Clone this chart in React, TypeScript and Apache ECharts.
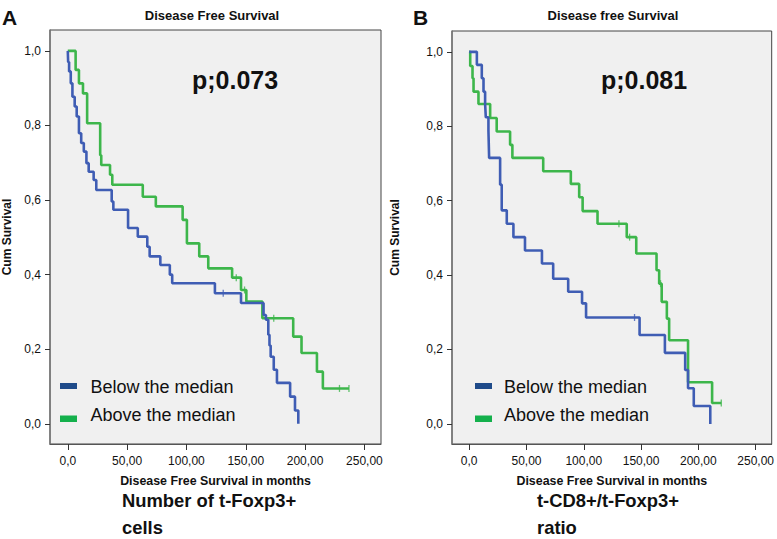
import React, { useEffect, useRef } from "react";
import * as echarts from "echarts";

// ---- data ----
const xTicks = [0, 50, 100, 150, 200, 250];
const yTicks = [0, 0.2, 0.4, 0.6, 0.8, 1.0];
const legendLabels = ["Below the median", "Above the median"];
const panelLetters = ["A", "B"];
const panelTitles = ["Disease Free Survival", "Disease free Survival"];
const xAxisTitle = "Disease Free Survival in months";
const yAxisTitle = "Cum Survival";
const pValues = ["p;0.073", "p;0.081"];
const subtitlesA = ["Number of t-Foxp3+", "cells"];
const subtitlesB = ["t-CD8+/t-Foxp3+", "ratio"];

// Panel A – below the median
const aBelowTime = [0, 0.3, 1.1, 2.5, 3.9, 5.8, 7.5, 9.4, 11.3, 13.5, 15.7, 17.6, 21.8, 24, 37, 38.4, 50.8, 59, 67, 69, 78, 86, 88, 124, 146, 165, 167, 169, 170, 171, 173.6, 176.3, 187.4, 191.5, 194.3];
const aBelowSurv = [1.0, 0.97, 0.945, 0.913, 0.877, 0.851, 0.824, 0.779, 0.753, 0.73, 0.699, 0.676, 0.654, 0.627, 0.596, 0.574, 0.525, 0.502, 0.475, 0.449, 0.426, 0.4, 0.377, 0.35, 0.324, 0.292, 0.279, 0.239, 0.21, 0.18, 0.145, 0.11, 0.073, 0.036, 0];
const aBelowCensorTime = [131];
const aBelowCensorSurv = [0.35];

// Panel A – above the median
const aAboveTime = [0, 6.6, 9.4, 12.8, 16.3, 27.3, 28.2, 35.6, 37.5, 63.2, 74.2, 96.8, 100.4, 110.8, 118.4, 138.5, 146, 150.5, 164, 190, 197, 210, 215, 237];
const aAboveSurv = [1.0, 0.949, 0.913, 0.886, 0.806, 0.72, 0.694, 0.668, 0.641, 0.609, 0.583, 0.547, 0.484, 0.449, 0.417, 0.392, 0.359, 0.328, 0.283, 0.234, 0.19, 0.14, 0.095, 0.095];
const aAboveCensorTime = [142, 149, 173.6, 229, 237];
const aAboveCensorSurv = [0.392, 0.359, 0.283, 0.095, 0.095];

// Panel B – below the median
const bBelowTime = [0, 6.7, 11, 12.5, 13.9, 14.5, 16.8, 17.4, 27, 28.4, 32.8, 38.6, 48.7, 63.5, 73.3, 86.4, 98.5, 102, 148.7, 170.8, 188.5, 191, 196, 210.4];
const bBelowSurv = [1.0, 0.965, 0.929, 0.893, 0.86, 0.824, 0.788, 0.715, 0.643, 0.574, 0.538, 0.502, 0.466, 0.431, 0.39, 0.355, 0.324, 0.286, 0.239, 0.191, 0.145, 0.096, 0.048, 0];
const bBelowCensorTime = [144.3];
const bBelowCensorSurv = [0.286];

// Panel B – above the median
const bAboveTime = [0, 0.9, 2.9, 3.8, 8.1, 18.3, 24, 35.7, 37.7, 64.6, 88.7, 96, 99, 112, 137.5, 145.8, 163.5, 165.8, 168, 172.5, 174.5, 191, 212, 220];
const bAboveSurv = [1.0, 0.962, 0.929, 0.893, 0.86, 0.822, 0.786, 0.75, 0.715, 0.679, 0.645, 0.609, 0.572, 0.538, 0.502, 0.458, 0.413, 0.377, 0.328, 0.283, 0.225, 0.112, 0.056, 0.056];
const bAboveCensorTime = [130.7, 140, 167, 220];
const bAboveCensorSurv = [0.538, 0.502, 0.377, 0.056];

// ---- styles ----
const FONT = "'Liberation Sans', Arial, Helvetica, sans-serif";
const BLUE = "#3f5db4";
const GREEN = "#3db64b";
const BLUE_SW = "#1f4b8a";
const GREEN_SW = "#14b04c";

const zip = (t: number[], s: number[]) => t.map((v, i) => [v, s[i]]);

export default function App() {
  const ref = useRef<HTMLDivElement>(null);
  useEffect(() => {
    if (!ref.current) return;
    const chart = echarts.init(ref.current, null, { renderer: "svg" });

    const grids = [
      { left: 44, top: 30, width: 337, height: 414 },
      { left: 452, top: 31, width: 321, height: 413 },
    ];
    const yNameGap = [37, 51];

    const xAxes = grids.map((_, i) => ({
      gridIndex: i,
      type: "value",
      min: -15,
      max: 264,
      splitLine: { show: false },
      axisLine: { show: true, onZero: false, lineStyle: { color: "#555", width: 1 } },
      axisTick: { show: true, customValues: xTicks, length: 6, lineStyle: { color: "#333" } },
      axisLabel: {
        customValues: xTicks,
        margin: 11,
        fontSize: 12,
        color: "#111",
        fontFamily: FONT,
        formatter: (v: number) => (v === 0 ? "0,0" : v.toFixed(2).replace(".", ",")),
      },
      name: xAxisTitle,
      nameLocation: "middle",
      nameGap: 31,
      nameTextStyle: { fontSize: 12.4, fontWeight: "bold", color: "#111", fontFamily: FONT },
    }));

    const yAxes = grids.map((_, i) => ({
      gridIndex: i,
      type: "value",
      min: -0.054,
      max: 1.056,
      splitLine: { show: false },
      axisLine: { show: true, onZero: false, lineStyle: { color: "#777", width: 1.5 } },
      axisTick: { show: true, customValues: yTicks, length: 5, lineStyle: { color: "#333" } },
      axisLabel: {
        customValues: yTicks,
        margin: 9,
        fontSize: 12,
        color: "#111",
        fontFamily: FONT,
        formatter: (v: number) => v.toFixed(1).replace(".", ","),
      },
      name: yAxisTitle,
      nameLocation: "middle",
      nameGap: yNameGap[i],
      nameRotate: 90,
      nameTextStyle: { fontSize: 12, fontWeight: "bold", color: "#111", fontFamily: FONT },
    }));

    const panels = [
      {
        below: zip(aBelowTime, aBelowSurv),
        above: zip(aAboveTime, aAboveSurv),
        belowC: zip(aBelowCensorTime, aBelowCensorSurv),
        aboveC: zip(aAboveCensorTime, aAboveCensorSurv),
      },
      {
        below: zip(bBelowTime, bBelowSurv),
        above: zip(bAboveTime, bAboveSurv),
        belowC: zip(bBelowCensorTime, bBelowCensorSurv),
        aboveC: zip(bAboveCensorTime, bAboveCensorSurv),
      },
    ];

    const series: any[] = [];
    panels.forEach((p, i) => {
      series.push({
        name: legendLabels[1], type: "line", xAxisIndex: i, yAxisIndex: i, step: "end",
        symbol: "none", data: p.above, lineStyle: { color: GREEN, width: 2.6 }, itemStyle: { color: GREEN }, silent: true,
      });
      series.push({
        name: legendLabels[0], type: "line", xAxisIndex: i, yAxisIndex: i, step: "end",
        symbol: "none", data: p.below, lineStyle: { color: BLUE, width: 2.6 }, itemStyle: { color: BLUE }, silent: true,
      });
      series.push({
        name: legendLabels[1] + " censored", type: "scatter", xAxisIndex: i, yAxisIndex: i,
        symbol: "rect", symbolSize: [1.3, 7], data: p.aboveC, itemStyle: { color: GREEN }, silent: true,
      });
      series.push({
        name: legendLabels[0] + " censored", type: "scatter", xAxisIndex: i, yAxisIndex: i,
        symbol: "rect", symbolSize: [1.3, 7], data: p.belowC, itemStyle: { color: BLUE }, silent: true,
      });
    });

    const txt = (text: string, x: number, y: number, font: string, align = "left") => ({
      type: "text", x, y, silent: true,
      style: { text, font, fill: "#111", align, verticalAlign: "middle" },
    });

    const legendX = [[60, 90.5], [475, 504]];
    const letterX = [2, 413];
    const titleX = [212, 613];
    const pX = [192, 601];
    const subX = [122, 537];
    const subs = [subtitlesA, subtitlesB];

    const graphic: any[] = [];
    [0, 1].forEach((i) => {
      graphic.push(txt(panelLetters[i], letterX[i], 17, `bold 21px ${FONT}`));
      graphic.push(txt(panelTitles[i], titleX[i], 15, `bold 13px ${FONT}`, "center"));
      graphic.push(txt(pValues[i], pX[i], 79.5, `bold 25px ${FONT}`));
      graphic.push({ type: "rect", silent: true, shape: { x: legendX[i][0], y: 383, width: 17, height: 6 }, style: { fill: BLUE_SW } });
      graphic.push({ type: "rect", silent: true, shape: { x: legendX[i][0], y: 415.5, width: 17, height: 6.5 }, style: { fill: GREEN_SW } });
      graphic.push(txt(legendLabels[0], legendX[i][1], 386.5, `18px ${FONT}`));
      graphic.push(txt(legendLabels[1], legendX[i][1], 414.5, `18px ${FONT}`));
      graphic.push(txt(subs[i][0], subX[i], 500, `bold 18.4px ${FONT}`));
      graphic.push(txt(subs[i][1], subX[i], 527.5, `bold 18.4px ${FONT}`));
    });

    chart.setOption({
      animation: false,
      backgroundColor: "#ffffff",
      grid: grids.map((g) => ({
        ...g, show: true, backgroundColor: "#f0f0f0", borderColor: "#444", borderWidth: 1, containLabel: false,
      })),
      xAxis: xAxes,
      yAxis: yAxes,
      series,
      graphic,
    });
    return () => chart.dispose();
  }, []);

  return (
    <div
      ref={ref}
      style={{ position: "fixed", left: 0, top: 0, width: 777, height: 539 }}
    />
  );
}
